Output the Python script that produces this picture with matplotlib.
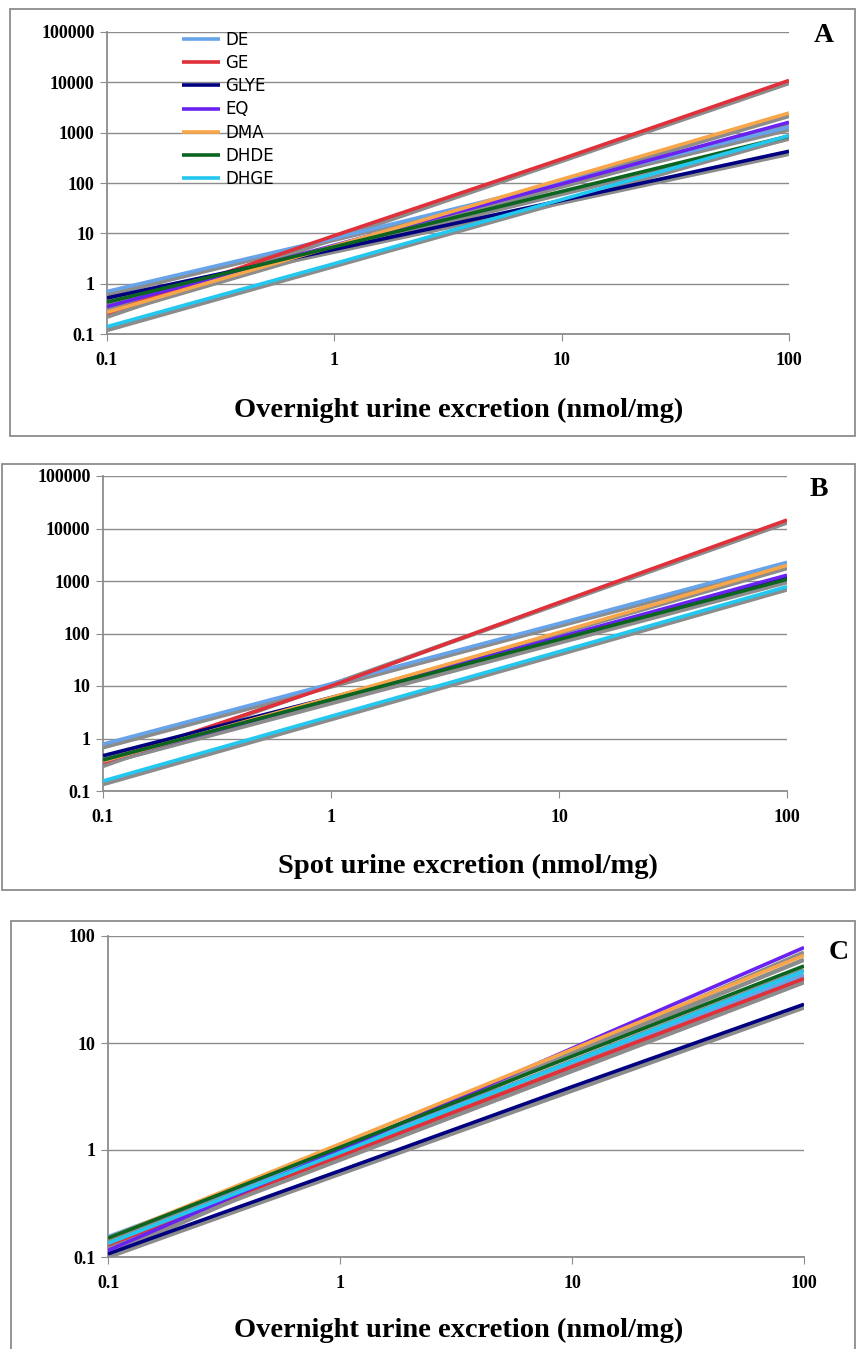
import matplotlib
matplotlib.use("Agg")
import matplotlib.pyplot as plt
from matplotlib.patches import Rectangle

W, H = 856, 1349

series = ["DE", "GE", "GLYE", "EQ", "DMA", "DHDE", "DHGE"]
colors = ["#66A3E8", "#E0303A", "#000080", "#6A22F0", "#F9A64A", "#0B6420", "#22C8F0"]

x_pts = [0.1, 1, 10, 100]

# panel A: overnight urine
a_vals = {
    "DE": [0.70, 8.0, 102, 1300],
    "GE": [0.26, 9.0, 300, 10900],
    "GLYE": [0.52, 4.8, 45, 427],
    "EQ": [0.35, 5.8, 96, 1610],
    "DMA": [0.27, 5.6, 118, 2460],
    "DHDE": [0.43, 5.4, 68, 855],
    "DHGE": [0.14, 2.5, 47, 875],
}
a_fit_lo = [0.60, 0.22, 0.46, 0.31, 0.24, 0.38, 0.12]
a_fit_hi = [1150, 9700, 380, 1400, 2150, 760, 780]

# panel B: spot urine
b_vals = {
    "DE": [0.78, 11, 155, 2270],
    "GE": [0.35, 10, 390, 14500],
    "GLYE": [0.47, 6.0, 82, 1150],
    "EQ": [0.37, 5.6, 85, 1290],
    "DMA": [0.37, 6.0, 105, 1990],
    "DHDE": [0.39, 5.5, 77, 1075],
    "DHGE": [0.155, 2.65, 45, 780],
}
b_fit_lo = [0.68, 0.30, 0.42, 0.33, 0.33, 0.33, 0.135]
b_fit_hi = [2000, 13000, 1020, 1140, 1760, 950, 690]

# panel C: overnight urine
c_vals = {
    "DE": [0.155, 1.0, 6.6, 43],
    "GE": [0.13, 0.88, 6.0, 40],
    "GLYE": [0.107, 0.64, 3.9, 23],
    "EQ": [0.115, 1.0, 8.9, 78],
    "DMA": [0.15, 1.14, 8.7, 66],
    "DHDE": [0.15, 1.06, 7.5, 52.5],
    "DHGE": [0.134, 0.945, 6.7, 47],
}
c_fit_lo = [0.14, 0.12, 0.10, 0.105, 0.135, 0.135, 0.12]
c_fit_hi = [39, 37, 21.5, 70, 60, 48, 43]

x_ticks = [0.1, 1, 10, 100]
x_labels = ["0.1", "1", "10", "100"]
y_ticks_ab = [0.1, 1, 10, 100, 1000, 10000, 100000]
y_labels_ab = ["0.1", "1", "10", "100", "1000", "10000", "100000"]
y_ticks_c = [0.1, 1, 10, 100]
y_labels_c = ["0.1", "1", "10", "100"]

GRAY = "#8c8c8c"


def px_axes(fig, left, right, top, bottom):
    return fig.add_axes([left / W, 1 - bottom / H, (right - left) / W, (bottom - top) / H])


def draw_panel(ax, vals, fit_lo, fit_hi, yticks, ylabels, ylim):
    for i, name in enumerate(series):
        ax.plot([x_pts[0], x_pts[-1]], [fit_lo[i], fit_hi[i]], color=GRAY, lw=3.2, zorder=2,
                solid_capstyle="butt")
    for i, name in enumerate(series):
        ax.plot(x_pts, vals[name], color=colors[i], lw=2.6, label=name, zorder=3,
                solid_capstyle="butt")
    ax.set_xscale("log")
    ax.set_yscale("log")
    ax.set_xlim(0.1, 100)
    ax.set_ylim(*ylim)
    ax.set_xticks(x_ticks)
    ax.set_xticklabels(x_labels)
    ax.set_yticks(yticks)
    ax.set_yticklabels(ylabels)
    ax.minorticks_off()
    for lab in ax.get_xticklabels() + ax.get_yticklabels():
        lab.set_fontfamily("Liberation Serif")
        lab.set_fontweight("bold")
        lab.set_fontsize(13)
    ax.tick_params(axis="y", length=5, color=GRAY, pad=4)
    ax.tick_params(axis="x", length=5, color=GRAY, pad=8)
    ax.grid(axis="y", color=GRAY, lw=1)
    ax.set_axisbelow(True)
    for s in ["top", "right"]:
        ax.spines[s].set_visible(False)
    for s in ["left", "bottom"]:
        ax.spines[s].set_color(GRAY)
        ax.spines[s].set_linewidth(1.3)


def fig_text(fig, x, y, s, **kw):
    fig.text(x / W, 1 - y / H, s, family="Liberation Serif", weight="bold", **kw)


fig = plt.figure(figsize=(W / 100, H / 100), dpi=100)

ax_a = px_axes(fig, 107, 789, 32, 334)
draw_panel(ax_a, a_vals, a_fit_lo, a_fit_hi, y_ticks_ab, y_labels_ab, (0.1, 100000))
ax_a.legend(loc="upper left", bbox_to_anchor=(182 / W, 1 - 31 / H), bbox_transform=fig.transFigure,
            frameon=False, borderpad=0, borderaxespad=0, handlelength=2.3, handletextpad=0.3,
            labelspacing=0.31, prop=dict(family="DejaVu Sans", size=12))

ax_b = px_axes(fig, 103, 787, 476, 791)
draw_panel(ax_b, b_vals, b_fit_lo, b_fit_hi, y_ticks_ab, y_labels_ab, (0.1, 100000))

ax_c = px_axes(fig, 108, 804, 936, 1257)
draw_panel(ax_c, c_vals, c_fit_lo, c_fit_hi, y_ticks_c, y_labels_c, (0.1, 100))

# axis titles
fig_text(fig, 459, 417, "Overnight urine excretion (nmol/mg)", size=20.5, ha="center", va="baseline")
fig_text(fig, 468, 873, "Spot urine excretion (nmol/mg)", size=20.5, ha="center", va="baseline")
fig_text(fig, 459, 1337, "Overnight urine excretion (nmol/mg)", size=20.5, ha="center", va="baseline")

# panel letters
fig_text(fig, 814, 42, "A", size=20, ha="left", va="baseline")
fig_text(fig, 810, 496, "B", size=20, ha="left", va="baseline")
fig_text(fig, 829, 959, "C", size=20, ha="left", va="baseline")

# outer frames around each panel
for (l, t, r, b) in [(10, 9, 855, 436), (2, 464, 855, 890), (11, 921, 855, 1360)]:
    fig.add_artist(Rectangle((l / W, 1 - b / H), (r - l) / W, (b - t) / H, fill=False,
                             edgecolor=GRAY, lw=1.3, transform=fig.transFigure))

fig.savefig("out.png", dpi=100)
